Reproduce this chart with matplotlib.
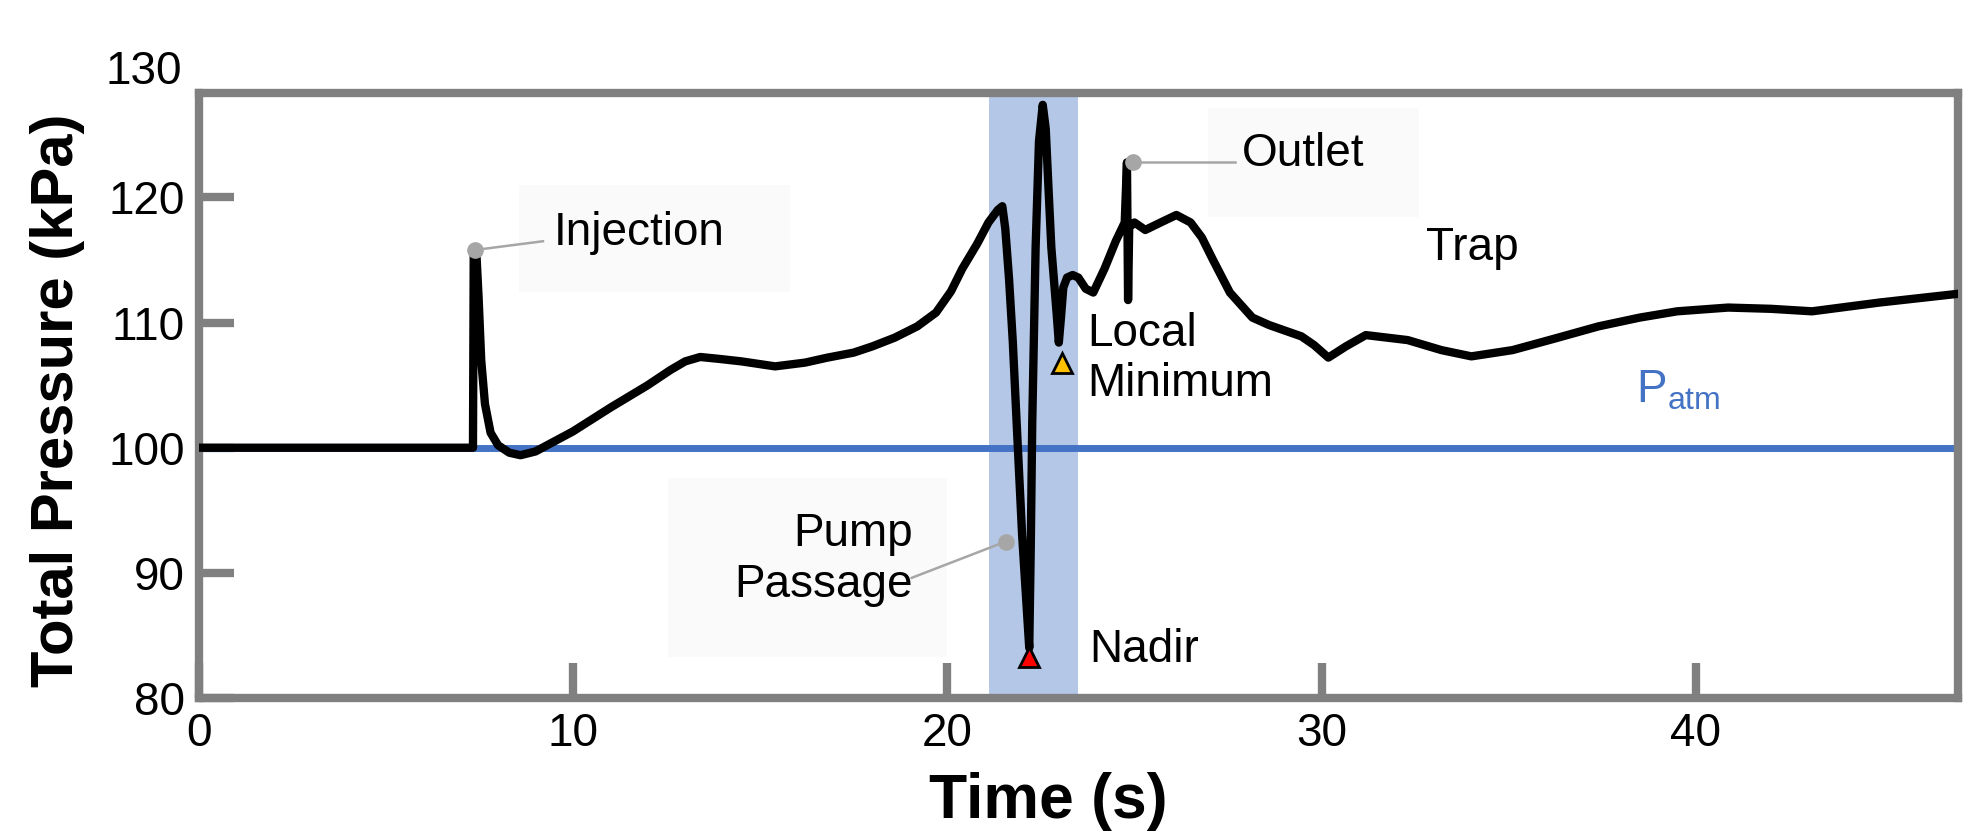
import matplotlib
matplotlib.use("Agg")
import matplotlib.pyplot as plt
from matplotlib.patches import Rectangle

plt.rcParams["font.family"] = ["Liberation Sans", "DejaVu Sans"]
plt.rcParams["mathtext.default"] = "regular"

# total pressure trace
time_s = [0.0, 3.0, 7.0, 7.33, 7.35, 7.42, 7.48, 7.55, 7.65, 7.8, 8.0, 8.3, 8.6, 9.0,
          10.0, 11.0, 12.0, 12.6, 13.0, 13.4, 13.9, 14.5, 15.4, 16.2, 16.8, 17.5, 18.0,
          18.6, 19.2, 19.7, 20.1, 20.4, 20.8, 21.1, 21.35, 21.47, 21.55, 21.65, 21.75,
          21.85, 22.0, 22.19, 22.23, 22.27, 22.36, 22.45, 22.55, 22.63, 22.7, 22.78,
          22.92, 22.98, 23.04, 23.1, 23.2, 23.35, 23.5, 23.7, 23.9, 24.2, 24.5, 24.74,
          24.8, 24.83, 24.86, 25.0, 25.29, 25.7, 26.12, 26.5, 26.8, 27.1, 27.55, 28.15,
          28.6, 28.98, 29.46, 29.8, 30.18, 30.65, 31.18, 32.3, 33.2, 34.0, 35.1, 36.2,
          37.4, 38.5, 39.5, 40.86, 42.0, 43.1, 44.9, 47.0]
pressure_kpa = [100.0, 100.0, 100.0, 100.0, 115.5, 115.6, 112.0, 107.0, 103.5, 101.2,
                100.2, 99.6, 99.4, 99.7, 101.3, 103.2, 105.0, 106.2, 106.9, 107.25,
                107.1, 106.9, 106.5, 106.8, 107.2, 107.6, 108.1, 108.8, 109.7, 110.8,
                112.5, 114.3, 116.3, 118.0, 119.0, 119.3, 117.5, 113.5, 108.5, 102.2,
                93.0, 84.0, 92.0, 102.0, 116.0, 124.5, 127.4, 125.5, 121.0, 116.0, 110.8,
                108.4, 110.5, 112.8, 113.6, 113.8, 113.6, 112.7, 112.4, 114.3, 116.5,
                118.0, 122.8, 111.8, 117.6, 118.0, 117.4, 118.0, 118.6, 118.0, 116.8,
                115.0, 112.4, 110.4, 109.8, 109.4, 108.9, 108.2, 107.2, 108.1, 109.0,
                108.6, 107.8, 107.3, 107.8, 108.7, 109.7, 110.4, 110.9, 111.2, 111.1,
                110.9, 111.6, 112.3]

p_atm = 100.0
atm_span = [0.0, 46.9]
pump_window = (21.11, 23.48)

x_ticks = [0, 10, 20, 30, 40]
y_ticks = [80, 90, 100, 110, 120]

nadir = (22.19, 83.3)
local_min = (23.06, 106.8)

# label text, anchor point of the leader line, end of the leader, text position
callouts = [
    ("Injection", (7.38, 115.8), (9.2, 116.5), (9.49, 116.2), "left"),
    ("Outlet", (24.95, 122.8), (27.68, 122.8), (27.86, 122.5), "left"),
    ("Pump\nPassage", (21.56, 92.5), (19.05, 89.6), (19.08, 88.1), "right"),
]
plain_labels = [
    ("Local\nMinimum", (23.75, 104.1)),
    ("Nadir", (23.78, 82.9)),
    ("Trap", (32.8, 115.0)),
]
label_boxes = [(8.56, 112.45, 15.8, 121.0), (26.96, 118.4, 32.6, 127.15),
               (12.54, 83.3, 19.99, 97.6)]

gray = "#808080"
fig = plt.figure(figsize=(19.72, 8.33), dpi=100)
ax = fig.add_axes([0.1007, 0.1621, 0.8922, 0.7263])

for x0, y0, x1, y1 in label_boxes:
    ax.add_patch(Rectangle((x0, y0), x1 - x0, y1 - y0, color="#fafafa", zorder=0.5, lw=0))

ax.axvspan(*pump_window, ymax=0.993, color="#b4c7e7", lw=0, zorder=1)
ax.plot(atm_span, [p_atm, p_atm], color="#4472c4", lw=5, zorder=2, solid_capstyle="butt")
ax.plot(time_s, pressure_kpa, color="black", lw=6, zorder=3,
        solid_joinstyle="round", solid_capstyle="round")

for text, (px, py), (lx, ly), (tx, ty), ha in callouts:
    ax.plot([px, lx], [py, ly], color="#a6a6a6", lw=1.8, zorder=3.5)
    ax.plot(px, py, "o", color="#a6a6a6", ms=11, zorder=3.6)
    ax.text(tx, ty, text, ha=ha, va="baseline", fontsize=33, linespacing=1.2, zorder=5)

for text, (tx, ty) in plain_labels:
    ax.text(tx, ty, text, ha="left", va="baseline", fontsize=33, linespacing=1.2, zorder=5)

ax.text(38.4, 103.6, "P$_{atm}$", ha="left", va="baseline", fontsize=33,
        color="#4472c4", zorder=5)

ax.plot(*nadir, marker="^", ms=15, mfc="red", mec="black", mew=2, zorder=4)
ax.plot(*local_min, marker="^", ms=15, mfc="#ffc000", mec="black", mew=2, zorder=4)

ax.set_xlim(0, 47)
ax.set_ylim(80, 128.35)
ax.set_xticks(x_ticks)
ax.set_yticks(y_ticks)
ax.tick_params(direction="in", length=25, width=6, color=gray, labelsize=33, pad=10)
ax.annotate("130", xy=(0, 130), xycoords=("axes fraction", "data"), xytext=(-12, 0),
            textcoords="offset points", ha="right", va="center", fontsize=33,
            annotation_clip=False)
for sp in ax.spines.values():
    sp.set_color(gray)
    sp.set_linewidth(6)

fig.text(0.5314, 0.018, "Time (s)", ha="center", va="baseline", fontsize=45, fontweight="bold")
fig.text(0.029, 0.52, "Total Pressure (kPa)", ha="center", va="center", rotation=90,
         fontsize=43, fontweight="bold")

fig.savefig("out.png", dpi=100)
